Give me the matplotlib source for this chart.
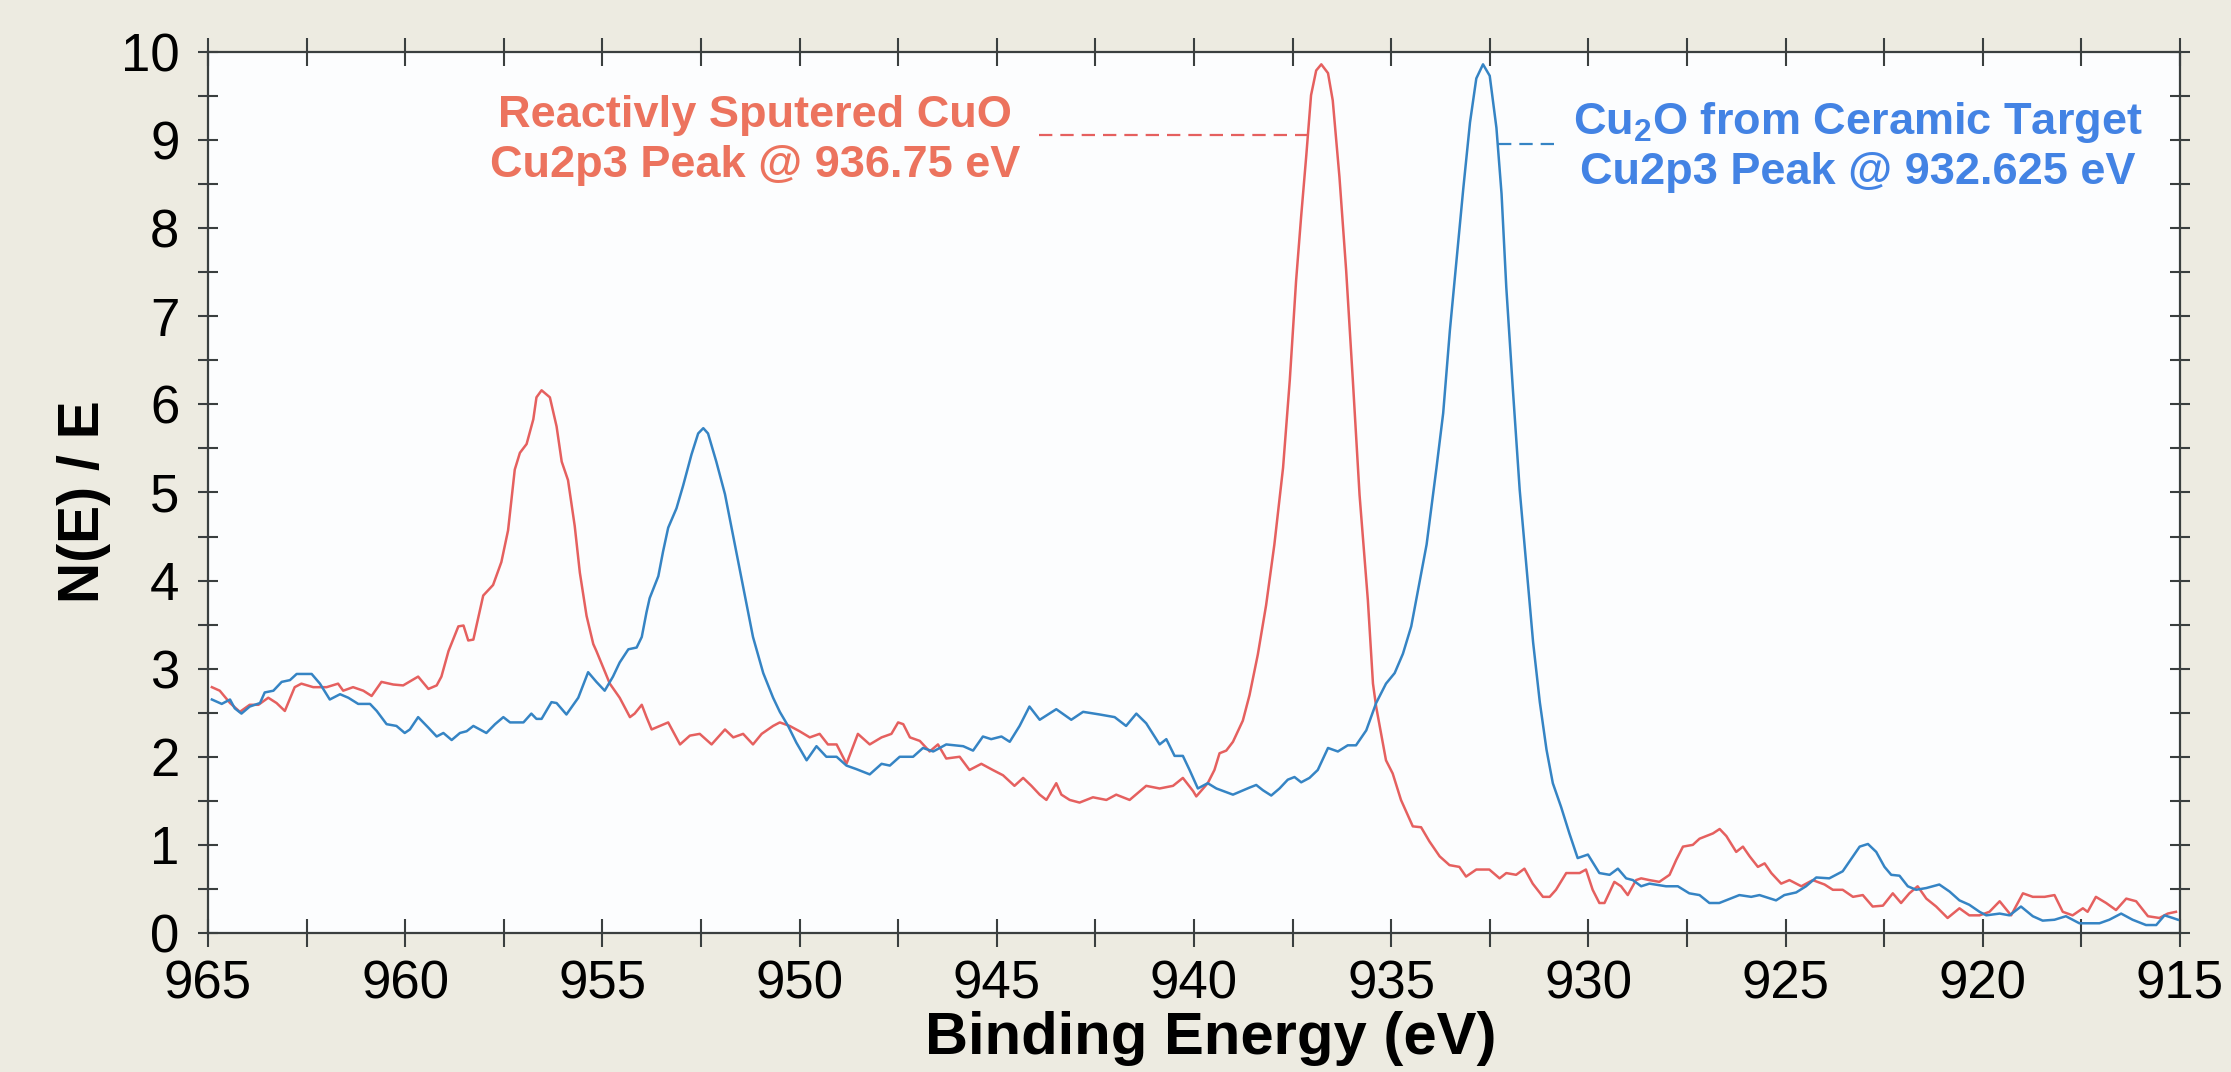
import numpy as np
import matplotlib
matplotlib.use("Agg")
import matplotlib.pyplot as plt
from matplotlib.ticker import MultipleLocator

plt.rcParams['font.family'] = ['Liberation Sans', 'DejaVu Sans']
plt.rcParams['mathtext.fontset'] = 'custom'
plt.rcParams['mathtext.rm'] = 'Liberation Sans:bold'
plt.rcParams['mathtext.default'] = 'rm'

# Reactively sputtered CuO (binding energy eV, N(E)/E)
cuo_energy = [
    964.9, 964.7, 964.44, 964.19, 963.94, 963.72, 963.47, 963.26, 963.05, 962.8,
    962.63, 962.33, 961.99, 961.7, 961.57, 961.32, 961.06, 960.85, 960.6, 960.3,
    960.05, 959.67, 959.41, 959.2, 959.08, 958.9, 958.65, 958.52, 958.4, 958.27,
    958.02, 957.77, 957.56, 957.39, 957.22, 957.09, 956.92, 956.75, 956.67, 956.54,
    956.33, 956.16, 956.03, 955.87, 955.7, 955.57, 955.4, 955.23, 955.15, 954.81,
    954.56, 954.3, 954.18, 954.0, 953.88, 953.75, 953.54, 953.33, 953.03, 952.78,
    952.53, 952.23, 951.89, 951.68, 951.43, 951.18, 950.96, 950.67, 950.5, 950.25,
    950.0, 949.74, 949.49, 949.28, 949.06, 948.81, 948.52, 948.22, 947.92, 947.67,
    947.5, 947.37, 947.2, 946.95, 946.7, 946.49, 946.28, 945.94, 945.69, 945.39,
    945.1, 944.84, 944.55, 944.33, 944.12, 943.91, 943.74, 943.49, 943.36, 943.15,
    942.9, 942.56, 942.22, 941.97, 941.63, 941.21, 940.87, 940.53, 940.28, 940.02,
    939.94, 939.65, 939.48, 939.35, 939.18, 939.01, 938.76, 938.59, 938.38, 938.17,
    937.96, 937.74, 937.57, 937.41, 937.28, 937.15, 937.03, 936.9, 936.77, 936.6,
    936.48, 936.31, 936.14, 935.97, 935.8, 935.59, 935.46, 935.38, 935.13, 934.96,
    934.75, 934.45, 934.24, 934.03, 933.77, 933.52, 933.27, 933.1, 932.84, 932.51,
    932.25, 932.08, 931.83, 931.62, 931.41, 931.15, 930.98, 930.82, 930.56, 930.22,
    930.06, 929.89, 929.72, 929.59, 929.34, 929.17, 929.0, 928.79, 928.66, 928.45,
    928.2, 927.94, 927.77, 927.6, 927.35, 927.18, 927.01, 926.84, 926.67, 926.5,
    926.25, 926.08, 925.91, 925.7, 925.53, 925.36, 925.11, 924.9, 924.6, 924.31,
    924.01, 923.8, 923.55, 923.29, 923.04, 922.79, 922.53, 922.28, 922.07, 921.86,
    921.65, 921.43, 921.18, 920.89, 920.59, 920.34, 920.08, 919.83, 919.57, 919.28,
    918.98, 918.73, 918.43, 918.18, 917.97, 917.72, 917.46, 917.34, 917.13, 916.87,
    916.62, 916.36, 916.11, 915.81, 915.52, 915.31, 915.1,
]
cuo_counts = [
    2.79, 2.75, 2.61, 2.51, 2.59, 2.59, 2.67, 2.61, 2.52, 2.79,
    2.83, 2.79, 2.79, 2.83, 2.75, 2.79, 2.75, 2.69, 2.85, 2.82,
    2.81, 2.91, 2.77, 2.81, 2.91, 3.2, 3.48, 3.49, 3.32, 3.33,
    3.83, 3.95, 4.21, 4.57, 5.26, 5.45, 5.55, 5.83, 6.08, 6.16,
    6.08, 5.75, 5.35, 5.14, 4.62, 4.09, 3.6, 3.28, 3.2, 2.83,
    2.67, 2.45, 2.49, 2.59, 2.45, 2.31, 2.35, 2.39, 2.14, 2.24,
    2.26, 2.14, 2.31, 2.22, 2.26, 2.14, 2.26, 2.35, 2.39, 2.35,
    2.29, 2.22, 2.26, 2.14, 2.14, 1.92, 2.26, 2.14, 2.22, 2.26,
    2.39, 2.37, 2.22, 2.18, 2.06, 2.14, 1.98, 2.0, 1.85, 1.92,
    1.85, 1.79, 1.67, 1.76, 1.67, 1.57, 1.51, 1.7, 1.57, 1.51,
    1.48, 1.54, 1.51, 1.57, 1.51, 1.67, 1.64, 1.67, 1.76, 1.61,
    1.55, 1.7, 1.85, 2.04, 2.07, 2.17, 2.41, 2.7, 3.16, 3.72,
    4.41, 5.28, 6.27, 7.4, 8.14, 8.83, 9.51, 9.79, 9.86, 9.76,
    9.45, 8.58, 7.52, 6.27, 4.97, 3.78, 2.83, 2.57, 1.96, 1.81,
    1.51, 1.21, 1.2, 1.04, 0.87, 0.77, 0.75, 0.64, 0.72, 0.72,
    0.62, 0.68, 0.66, 0.73, 0.56, 0.41, 0.41, 0.49, 0.68, 0.68,
    0.72, 0.49, 0.34, 0.34, 0.58, 0.53, 0.43, 0.6, 0.62, 0.6,
    0.58, 0.66, 0.83, 0.98, 1.0, 1.07, 1.1, 1.13, 1.18, 1.1,
    0.92, 0.98, 0.87, 0.75, 0.79, 0.68, 0.56, 0.6, 0.53, 0.6,
    0.55, 0.49, 0.49, 0.41, 0.43, 0.3, 0.31, 0.45, 0.34, 0.45,
    0.53, 0.39, 0.3, 0.17, 0.28, 0.2, 0.2, 0.24, 0.36, 0.2,
    0.45, 0.41, 0.41, 0.43, 0.24, 0.2, 0.28, 0.24, 0.41, 0.34,
    0.26, 0.39, 0.36, 0.19, 0.17, 0.22, 0.24,
]

# Cu2O from ceramic target
cu2o_energy = [
    964.9, 964.65, 964.44, 964.32, 964.15, 963.94, 963.68, 963.56, 963.34, 963.13,
    962.92, 962.75, 962.37, 962.16, 961.91, 961.65, 961.44, 961.19, 960.89, 960.72,
    960.47, 960.22, 960.01, 959.88, 959.67, 959.41, 959.2, 959.03, 958.82, 958.61,
    958.44, 958.27, 957.94, 957.72, 957.51, 957.34, 957.0, 956.8, 956.67, 956.54,
    956.29, 956.16, 955.91, 955.61, 955.36, 955.15, 954.94, 954.73, 954.56, 954.34,
    954.13, 954.0, 953.88, 953.8, 953.58, 953.46, 953.33, 953.12, 952.95, 952.74,
    952.57, 952.44, 952.32, 952.11, 951.89, 951.68, 951.43, 951.18, 950.92, 950.67,
    950.5, 950.29, 950.08, 949.82, 949.57, 949.32, 949.06, 948.81, 948.56, 948.22,
    947.92, 947.71, 947.46, 947.12, 946.87, 946.61, 946.28, 945.85, 945.6, 945.35,
    945.14, 944.88, 944.67, 944.42, 944.17, 943.91, 943.49, 943.11, 942.81, 942.39,
    942.01, 941.72, 941.46, 941.21, 940.87, 940.7, 940.49, 940.28, 940.11, 939.9,
    939.65, 939.43, 939.01, 938.59, 938.42, 938.25, 938.04, 937.83, 937.62, 937.45,
    937.28, 937.07, 936.86, 936.6, 936.35, 936.1, 935.89, 935.63, 935.38, 935.13,
    934.91, 934.7, 934.49, 934.36, 934.1, 933.85, 933.68, 933.51, 933.34, 933.17,
    933.0, 932.84, 932.67, 932.5, 932.33, 932.2, 932.08, 931.91, 931.74, 931.57,
    931.4, 931.23, 931.06, 930.9, 930.69, 930.48, 930.27, 930.01, 929.72, 929.46,
    929.25, 929.04, 928.87, 928.66, 928.45, 928.03, 927.73, 927.44, 927.18, 926.93,
    926.68, 926.17, 925.87, 925.66, 925.24, 925.03, 924.73, 924.48, 924.22, 923.89,
    923.55, 923.29, 923.12, 922.91, 922.7, 922.49, 922.32, 922.11, 921.9, 921.69,
    921.43, 921.1, 920.84, 920.59, 920.34, 920.08, 919.91, 919.57, 919.32, 919.03,
    918.73, 918.48, 918.18, 917.89, 917.55, 917.04, 916.79, 916.49, 916.2, 915.86,
    915.6, 915.39, 915.18, 915.05,
]
cu2o_counts = [
    2.65, 2.6, 2.65, 2.55, 2.49, 2.57, 2.61, 2.73, 2.75, 2.85,
    2.87, 2.94, 2.94, 2.83, 2.65, 2.71, 2.67, 2.6, 2.6, 2.52,
    2.37, 2.35, 2.27, 2.31, 2.45, 2.33, 2.23, 2.27, 2.19, 2.27,
    2.29, 2.35, 2.27, 2.37, 2.45, 2.39, 2.39, 2.49, 2.43, 2.43,
    2.62, 2.61, 2.48, 2.67, 2.96, 2.85, 2.75, 2.91, 3.07, 3.22,
    3.24, 3.36, 3.64, 3.8, 4.05, 4.33, 4.6, 4.82, 5.08, 5.43,
    5.67, 5.73, 5.67, 5.35, 4.98, 4.5, 3.93, 3.36, 2.95, 2.67,
    2.51, 2.35, 2.16, 1.96, 2.12, 2.0, 2.0, 1.9, 1.86, 1.8,
    1.92, 1.9, 2.0, 2.0, 2.1, 2.06, 2.14, 2.12, 2.07, 2.23,
    2.2, 2.23, 2.17, 2.35, 2.57, 2.42, 2.54, 2.42, 2.51, 2.48,
    2.45, 2.35, 2.49, 2.38, 2.14, 2.2, 2.01, 2.01, 1.85, 1.64,
    1.7, 1.64, 1.57, 1.65, 1.68, 1.62, 1.56, 1.64, 1.74, 1.77,
    1.71, 1.76, 1.85, 2.1, 2.06, 2.13, 2.13, 2.3, 2.61, 2.83,
    2.95, 3.17, 3.48, 3.79, 4.41, 5.28, 5.9, 6.84, 7.65, 8.45,
    9.2, 9.7, 9.86, 9.73, 9.14, 8.39, 7.33, 6.15, 5.03, 4.16,
    3.3, 2.62, 2.08, 1.7, 1.43, 1.13, 0.85, 0.89, 0.68, 0.66,
    0.73, 0.62, 0.6, 0.53, 0.56, 0.53, 0.53, 0.45, 0.43, 0.34,
    0.34, 0.43, 0.41, 0.43, 0.37, 0.43, 0.46, 0.53, 0.63, 0.62,
    0.7, 0.87, 0.98, 1.01, 0.92, 0.75, 0.66, 0.65, 0.53, 0.49,
    0.51, 0.55, 0.47, 0.37, 0.32, 0.24, 0.2, 0.22, 0.2, 0.3,
    0.19, 0.14, 0.15, 0.19, 0.11, 0.11, 0.15, 0.22, 0.15, 0.09,
    0.09, 0.2, 0.17, 0.15,
]

x_ticks = [965, 960, 955, 950, 945, 940, 935, 930, 925, 920, 915]
y_ticks = list(range(0, 11))

cuo_label = "Reactivly Sputered CuO\nCu2p3 Peak @ 936.75 eV"
cu2o_label = "Cu$_2$O from Ceramic Target\nCu2p3 Peak @ 932.625 eV"

RED = '#E5605F'
BLUE = '#3584C4'
RED_TEXT = '#EC735E'
BLUE_TEXT = '#4383E4'
AXIS = '#3A3F3F'


def flank_crossing(energy, counts, level, side):
    """Energy where the main peak flank crosses `level` (side='high' or 'low' eV)."""
    e = np.asarray(energy)
    c = np.asarray(counts)
    ipk = int(np.argmax(c))
    if side == 'high':
        i = ipk
        while i > 0 and c[i - 1] >= level:
            i -= 1
        j = i - 1
    else:
        i = ipk
        while i < len(c) - 1 and c[i + 1] >= level:
            i += 1
        j = i + 1
    t = (level - c[j]) / (c[i] - c[j])
    return e[j] + t * (e[i] - e[j])


fig = plt.figure(figsize=(22.31, 10.72), dpi=100, facecolor='#EDEBE1')
ax = fig.add_axes([0.0932, 0.1297, 0.8839, 0.8218])
ax.set_facecolor('#FCFDFE')

ax.plot(cuo_energy, cuo_counts, color=RED, lw=1.8, zorder=3)
ax.plot(cu2o_energy, cu2o_counts, color=BLUE, lw=1.8, zorder=3)

ax.set_xlim(965, 915)
ax.set_ylim(0, 10)
ax.set_xticks(x_ticks)
ax.set_yticks(y_ticks)
ax.xaxis.set_minor_locator(MultipleLocator(2.5))
ax.yaxis.set_minor_locator(MultipleLocator(0.5))

for s in ax.spines.values():
    s.set_color(AXIS)
    s.set_linewidth(1.6)

ax.tick_params(which='both', direction='inout', top=True, right=True,
               color=AXIS, width=1.5, labelsize=38, labelcolor='black')
ax.tick_params(axis='x', which='both', length=20, pad=9)
ax.tick_params(axis='y', which='both', length=15, pad=13)

ax.set_xlabel("Binding Energy (eV)", fontsize=43, fontweight='bold')
ax.xaxis.label.set_va('center')
ax.xaxis.set_label_coords(0.5086, -0.1195)
ax.set_ylabel("N(E) / E", fontsize=41, fontweight='bold')
ax.yaxis.label.set_va('center')
ax.yaxis.set_label_coords(-0.063, 0.49)

# peak labels with dashed leaders
red_level = 9.06
red_end = flank_crossing(cuo_energy, cuo_counts, red_level, 'high')
ax.plot([943.94, red_end], [red_level, red_level], color=RED, lw=1.6,
        dashes=(6, 3.6), zorder=2)
ax.text(951.13, 8.99, cuo_label, color=RED_TEXT, fontsize=32.5, fontweight='bold',
        ha='center', va='center', linespacing=1.28)

blue_level = 8.95
blue_start = flank_crossing(cu2o_energy, cu2o_counts, blue_level, 'low')
ax.plot([blue_start, 930.7], [blue_level, blue_level], color=BLUE, lw=1.6,
        dashes=(6, 3.6), zorder=2)
ax.text(923.17, 8.93, cu2o_label, color=BLUE_TEXT, fontsize=32.5, fontweight='bold',
        ha='center', va='center', linespacing=1.22)

fig.savefig("out.png", dpi=100, facecolor=fig.get_facecolor())
